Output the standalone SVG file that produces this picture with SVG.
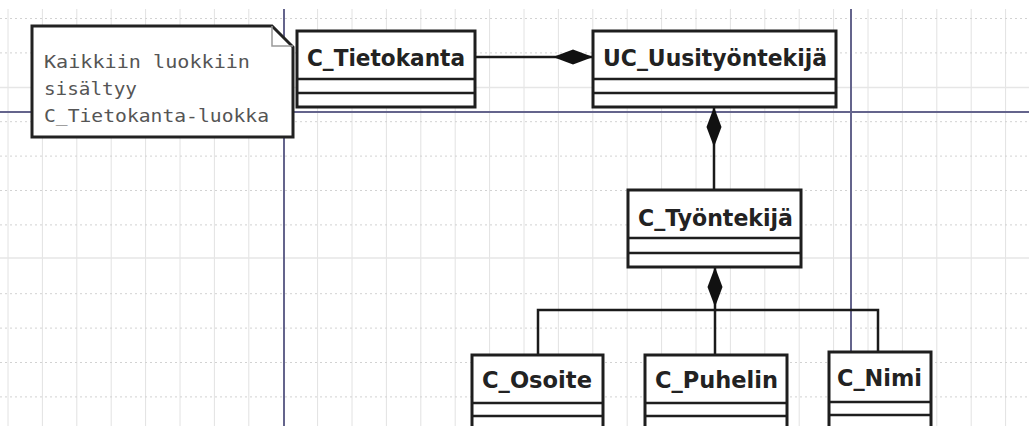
<svg xmlns="http://www.w3.org/2000/svg" width="1029" height="426" viewBox="0 0 1029 426">
<style>
.gv{stroke:#e2e2e2;stroke-width:1}
.gh{stroke:#d2d2d2;stroke-width:1;stroke-dasharray:2 3}
.gs{stroke:#e6e6e6;stroke-width:1.5}
.guide{stroke:#64648c;stroke-width:2}
.box{fill:#fff;stroke:#1e1e1e;stroke-width:3}
.div{stroke:#1e1e1e;stroke-width:2.5}
.conn{fill:none;stroke:#1a1a1a;stroke-width:2.5}
.lbl{font-family:"DejaVu Sans","Verdana",sans-serif;font-weight:bold;font-size:22.5px;fill:#222}
.note{fill:#fff;stroke:#222;stroke-width:3}
.fold{fill:none;stroke:#999;stroke-width:1.5}
.ntxt{font-family:"DejaVu Sans Mono","Liberation Mono",monospace;font-size:17px;fill:#555}
</style>
<defs>
<marker id="diamond" viewBox="0 0 40 16" refX="0" refY="8" markerWidth="40" markerHeight="16" markerUnits="userSpaceOnUse" orient="auto">
<path d="M0,8 L20,0.5 L40,8 L20,15.5 Z" fill="#111"/>
</marker>
</defs>
<rect width="1029" height="426" fill="#fff"/>
<g id="grid">
<g class="gv">
<line x1="8" y1="9" x2="8" y2="426"/><line x1="42.4" y1="9" x2="42.4" y2="426"/><line x1="76.8" y1="9" x2="76.8" y2="426"/><line x1="111.2" y1="9" x2="111.2" y2="426"/><line x1="145.6" y1="9" x2="145.6" y2="426"/><line x1="180" y1="9" x2="180" y2="426"/><line x1="214.4" y1="9" x2="214.4" y2="426"/><line x1="248.8" y1="9" x2="248.8" y2="426"/><line x1="317.6" y1="9" x2="317.6" y2="426"/><line x1="352" y1="9" x2="352" y2="426"/><line x1="386.4" y1="9" x2="386.4" y2="426"/><line x1="420.8" y1="9" x2="420.8" y2="426"/><line x1="455.2" y1="9" x2="455.2" y2="426"/><line x1="489.6" y1="9" x2="489.6" y2="426"/><line x1="524" y1="9" x2="524" y2="426"/><line x1="558.4" y1="9" x2="558.4" y2="426"/><line x1="592.8" y1="9" x2="592.8" y2="426"/><line x1="627.2" y1="9" x2="627.2" y2="426"/><line x1="661.6" y1="9" x2="661.6" y2="426"/><line x1="696" y1="9" x2="696" y2="426"/><line x1="730.4" y1="9" x2="730.4" y2="426"/><line x1="764.8" y1="9" x2="764.8" y2="426"/><line x1="799.2" y1="9" x2="799.2" y2="426"/><line x1="833.6" y1="9" x2="833.6" y2="426"/><line x1="868" y1="9" x2="868" y2="426"/><line x1="902.4" y1="9" x2="902.4" y2="426"/><line x1="936.8" y1="9" x2="936.8" y2="426"/><line x1="971.2" y1="9" x2="971.2" y2="426"/><line x1="1005.6" y1="9" x2="1005.6" y2="426"/>
</g>
<g class="gh">
<line x1="0" y1="18.5" x2="1029" y2="18.5"/><line x1="0" y1="52.9" x2="1029" y2="52.9"/><line x1="0" y1="121.7" x2="1029" y2="121.7"/><line x1="0" y1="156.1" x2="1029" y2="156.1"/><line x1="0" y1="190.5" x2="1029" y2="190.5"/><line x1="0" y1="224.9" x2="1029" y2="224.9"/><line x1="0" y1="293.7" x2="1029" y2="293.7"/><line x1="0" y1="328.1" x2="1029" y2="328.1"/><line x1="0" y1="362.5" x2="1029" y2="362.5"/><line x1="0" y1="396.9" x2="1029" y2="396.9"/>
</g>
<g class="gs">
<line x1="0" y1="87.5" x2="1029" y2="87.5"/><line x1="0" y1="258" x2="1029" y2="258"/>
</g>
</g>
<g id="guides" class="guide">
<line x1="284" y1="9" x2="284" y2="426"/>
<line x1="851" y1="9" x2="851" y2="426"/>
<line x1="0" y1="112" x2="1029" y2="112"/>
</g>
<g id="connectors">
<path class="conn" d="M593,57 H475" marker-start="url(#diamond)"/>
<path class="conn" d="M714,107 V190" marker-start="url(#diamond)"/>
<path class="conn" d="M715,267 V310 H538 V355" marker-start="url(#diamond)"/>
<path class="conn" d="M715,310 V355"/>
<path class="conn" d="M715,310 H878 V352"/>
</g>
<g id="note">
<path class="note" d="M32,26 H272 L293,47 V137 H32 Z"/>
<path class="fold" d="M272,26 V46 H293"/>
<text class="ntxt" x="44" y="68" textLength="206" lengthAdjust="spacingAndGlyphs">Kaikkiin luokkiin</text>
<text class="ntxt" x="44" y="95" textLength="93" lengthAdjust="spacingAndGlyphs">sisältyy</text>
<text class="ntxt" x="44" y="122" textLength="225" lengthAdjust="spacingAndGlyphs">C_Tietokanta-luokka</text>
</g>
<g id="C_Tietokanta">
<rect class="box" x="297" y="31" width="178" height="76"/>
<line class="div" x1="297" y1="79" x2="475" y2="79"/>
<line class="div" x1="297" y1="93" x2="475" y2="93"/>
<text class="lbl" x="307" y="66" textLength="158" lengthAdjust="spacingAndGlyphs">C_Tietokanta</text>
</g>
<g id="UC_Uusityontekija">
<rect class="box" x="593" y="31" width="243" height="76"/>
<line class="div" x1="593" y1="79" x2="836" y2="79"/>
<line class="div" x1="593" y1="93" x2="836" y2="93"/>
<text class="lbl" x="603" y="66" textLength="224" lengthAdjust="spacingAndGlyphs">UC_Uusityöntekijä</text>
</g>
<g id="C_Tyontekija">
<rect class="box" x="628" y="190" width="173" height="77"/>
<line class="div" x1="628" y1="238" x2="801" y2="238"/>
<line class="div" x1="628" y1="253" x2="801" y2="253"/>
<text class="lbl" x="638" y="226" textLength="155" lengthAdjust="spacingAndGlyphs">C_Työntekijä</text>
</g>
<g id="C_Osoite">
<rect class="box" x="472" y="355" width="131" height="90"/>
<line class="div" x1="472" y1="403" x2="603" y2="403"/>
<line class="div" x1="472" y1="416" x2="603" y2="416"/>
<text class="lbl" x="482" y="388" textLength="110" lengthAdjust="spacingAndGlyphs">C_Osoite</text>
</g>
<g id="C_Puhelin">
<rect class="box" x="645" y="355" width="142" height="90"/>
<line class="div" x1="645" y1="403" x2="787" y2="403"/>
<line class="div" x1="645" y1="416" x2="787" y2="416"/>
<text class="lbl" x="655" y="388" textLength="123" lengthAdjust="spacingAndGlyphs">C_Puhelin</text>
</g>
<g id="C_Nimi">
<rect class="box" x="829" y="352" width="102" height="93"/>
<line class="div" x1="829" y1="402" x2="931" y2="402"/>
<line class="div" x1="829" y1="415" x2="931" y2="415"/>
<text class="lbl" x="837" y="386" textLength="85" lengthAdjust="spacingAndGlyphs">C_Nimi</text>
</g>
</svg>
